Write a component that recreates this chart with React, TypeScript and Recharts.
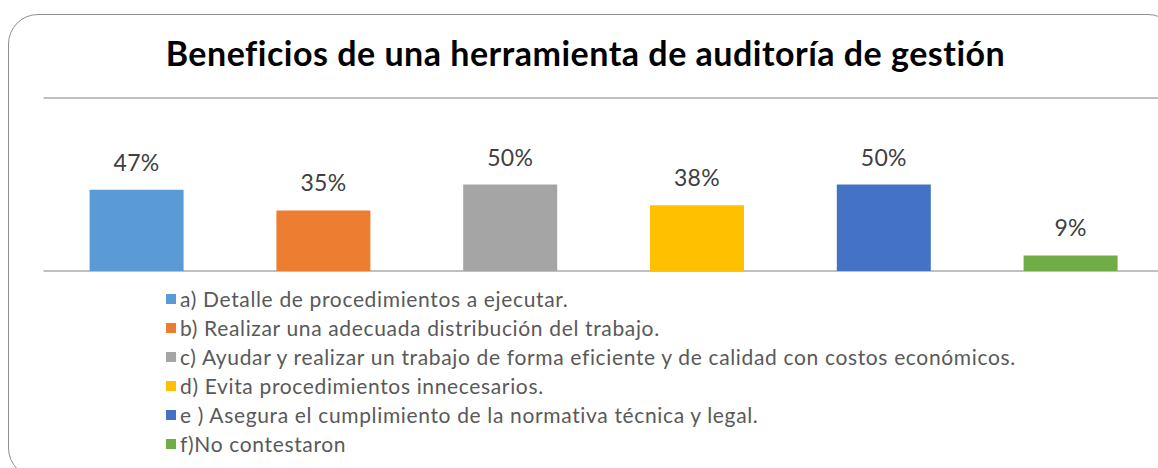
import { BarChart, Bar, XAxis, YAxis, CartesianGrid, LabelList, Cell } from "recharts";

const categories = ["a", "b", "c", "d", "e", "f"];
const shares = [0.47, 0.35, 0.5, 0.38, 0.5, 0.09];
const colors = ["#5B9BD5", "#ED7D31", "#A5A5A5", "#FFC000", "#4472C4", "#70AD47"];
const legendLabels = [
  "a) Detalle de procedimientos a ejecutar.",
  "b) Realizar una adecuada distribución del trabajo.",
  "c) Ayudar y realizar un trabajo de forma eficiente y de calidad con costos económicos.",
  "d) Evita procedimientos innecesarios.",
  "e ) Asegura el cumplimiento de la normativa técnica y legal.",
  "f)No contestaron",
];
const yTicks = [0, 1];

const data = categories.map((c, i) => ({ name: c, value: shares[i] }));

const FONT = "Lato, 'Open Sans', sans-serif";

export default function App() {
  return (
    <div
      style={{
        position: "fixed",
        left: 0,
        top: 0,
        width: 1158,
        height: 468,
        overflow: "hidden",
        background: "#fff",
        fontFamily: FONT,
      }}
    >
      {/* chart frame, partly outside the window like the original */}
      <div
        style={{
          position: "absolute",
          left: 8,
          top: 14,
          width: 1168,
          height: 462,
          border: "1.5px solid #8f8f8f",
          borderRadius: 30,
        }}
      />

      <div
        style={{
          position: "absolute",
          left: 0,
          top: 32,
          width: 1171,
          textAlign: "center",
          fontSize: 34,
          letterSpacing: 0.5,
          lineHeight: "42px",
          fontWeight: 700,
          color: "#000",
        }}
      >
        Beneficios de una herramienta de auditoría de gestión
      </div>

      <div style={{ position: "absolute", left: 0, top: 0 }}>
        <BarChart
          width={1170}
          height={290}
          data={data}
          margin={{ top: 98, right: 5.6, left: 43.6, bottom: 19 }}
          barSize={94}
        >
          <CartesianGrid vertical={false} stroke="#ababab" strokeWidth={1.5} />
          <XAxis dataKey="name" hide />
          <YAxis hide domain={[0, 1]} ticks={yTicks} />
          <Bar dataKey="value" isAnimationActive={false}>
            {data.map((d, i) => (
              <Cell key={d.name} fill={colors[i]} />
            ))}
            <LabelList
              dataKey="value"
              position="top"
              offset={19}
              formatter={(v: number) => `${Math.round(v * 100)}%`}
              style={{ fill: "#404040", fontSize: 23, letterSpacing: 0.3, fontFamily: FONT }}
            />
          </Bar>
        </BarChart>
      </div>

      <div style={{ position: "absolute", left: 166, top: 284 }}>
        {legendLabels.map((label, i) => (
          <div
            key={label}
            style={{
              display: "flex",
              alignItems: "center",
              height: 29,
              fontSize: 21,
              letterSpacing: 0.65,
              color: "#595959",
              whiteSpace: "nowrap",
            }}
          >
            <span
              style={{
                width: 10,
                height: 10,
                background: colors[i],
                marginRight: 4,
                flexShrink: 0,
              }}
            />
            {label}
          </div>
        ))}
      </div>
    </div>
  );
}
